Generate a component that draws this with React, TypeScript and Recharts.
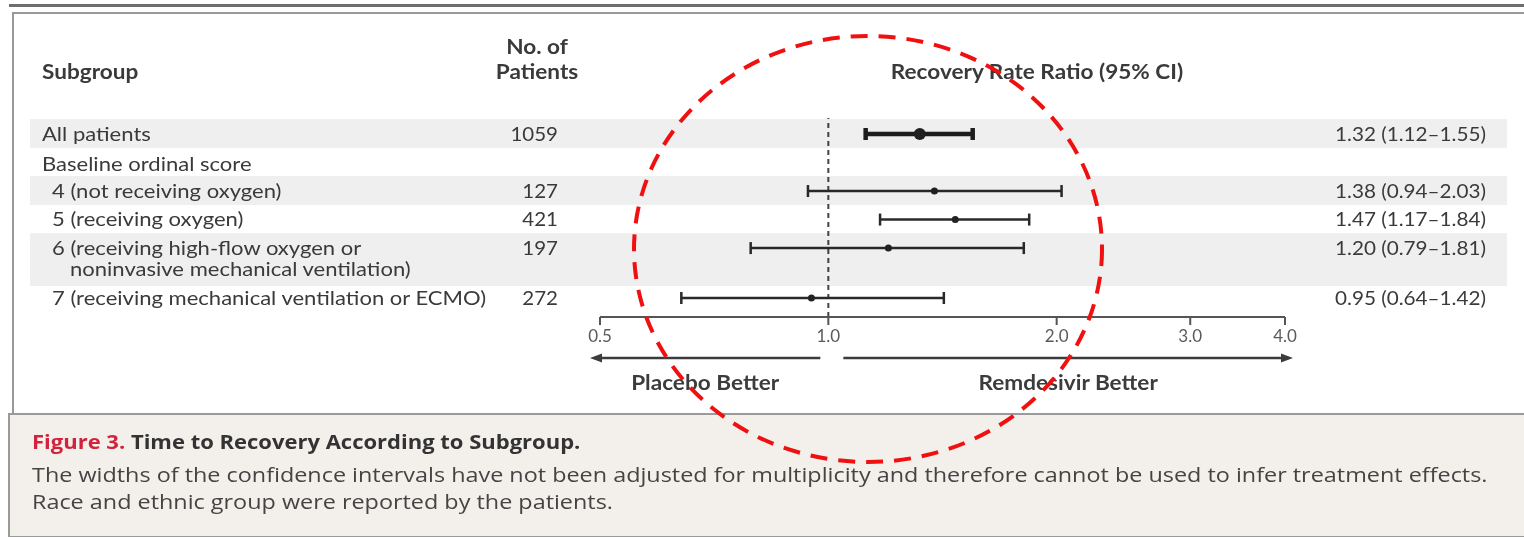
import React from 'react';
import { ScatterChart, Scatter, XAxis, YAxis, ErrorBar, ReferenceLine } from 'recharts';

// ---------- data ----------
const subgroupLabels: string[][] = [
  ['All patients'],
  ['Baseline ordinal score'],
  ['4 (not receiving oxygen)'],
  ['5 (receiving oxygen)'],
  ['6 (receiving high-flow oxygen or', 'noninvasive mechanical ventilation)'],
  ['7 (receiving mechanical ventilation or ECMO)'],
];
const subgroupLevel = [0, 0, 1, 1, 1, 1];
const patientCounts: (number | null)[] = [1059, null, 127, 421, 197, 272];
const estimates: (number | null)[] = [1.32, null, 1.38, 1.47, 1.2, 0.95];
const lowerCI: (number | null)[] = [1.12, null, 0.94, 1.17, 0.79, 0.64];
const upperCI: (number | null)[] = [1.55, null, 2.03, 1.84, 1.81, 1.42];
const xTicks = [0.5, 1, 2, 3, 4];
const xDomain: [number, number] = [0.5, 4];

// ---------- layout ----------
const W = 1524;
const H = 537;
const FONT = 'Lato, "Open Sans", sans-serif';
const CAPTION_FONT = '"Open Sans", Lato, sans-serif';
const TEXT = '#3a3a3a';
const SX = 1.13; // horizontal stretch of the figure's lettering
const ROW_SX = 1.16; // stretch of the row labels
const CSX = 1.17; // horizontal stretch of the caption lettering
const CSX_BOLD = 1.1;

// row positions (in line units) derived from the number of label lines
const rowPositions: number[] = [];
{
  let acc = 0;
  subgroupLabels.forEach((lines) => {
    rowPositions.push(acc);
    acc += 1 + (lines.length - 1) * 0.75;
  });
}
const lastPos = rowPositions[rowPositions.length - 1];

const fmt = (v: number) => v.toFixed(2);
const ciText = subgroupLabels.map((_, i) =>
  estimates[i] == null ? '' : `${fmt(estimates[i] as number)} (${fmt(lowerCI[i] as number)}\u2013${fmt(upperCI[i] as number)})`
);

const makePoint = (i: number) => ({
  x: estimates[i] as number,
  y: rowPositions[i],
  err: [(estimates[i] as number) - (lowerCI[i] as number), (upperCI[i] as number) - (estimates[i] as number)],
});
const overallData = [makePoint(0)];
const subgroupData = subgroupLabels
  .map((_, i) => i)
  .filter((i) => i > 0 && estimates[i] != null)
  .map(makePoint);

// stretched text helper
const SText = ({ x, y, sx = SX, anchor = 'start', children, ...rest }: any) => (
  <text transform={`translate(${x},${y}) scale(${sx},1)`} x={0} y={0} textAnchor={anchor} {...rest}>
    {children}
  </text>
);

const RowTick = (props: any) => {
  const { y, payload } = props;
  const i = rowPositions.findIndex((p) => Math.abs(p - payload.value) < 1e-6);
  if (i < 0) return null;
  const lines = subgroupLabels[i];
  const indent = subgroupLevel[i] ? 10 : 0;
  const banded = i % 2 === 0;
  const common = { fontFamily: FONT, fontSize: 19, fill: TEXT, dy: '0.35em' };
  return (
    <g>
      {banded && (
        <rect
          x={30}
          y={y - 15}
          width={1477}
          height={29 + (lines.length - 1) * 24}
          fill="#efefef"
          style={{ mixBlendMode: 'multiply' }}
        />
      )}
      {lines.map((l, k) => (
        <SText key={k} x={42 + indent + (k > 0 ? 18 : 0)} y={y + (i === 1 ? 2 : 0) + k * 21.5} sx={ROW_SX} {...common}>
          {l}
        </SText>
      ))}
      {patientCounts[i] != null && (
        <SText x={558} y={y} anchor="end" sx={1.08} {...common}>
          {patientCounts[i]}
        </SText>
      )}
      {ciText[i] && (
        <SText x={1335} y={y} sx={1.09} {...common}>
          {ciText[i]}
        </SText>
      )}
    </g>
  );
};

const DirectionLabel = (props: any) => {
  const vb = props.viewBox;
  if (!vb) return null;
  const { x, y, width } = vb;
  const mid = x + (width * Math.log(1 / xDomain[0])) / Math.log(xDomain[1] / xDomain[0]);
  const ay = y + 41;
  const leftEnd = x - 10;
  const rightEnd = x + width + 8;
  const col = '#3c3c3c';
  return (
    <g>
      <line x1={mid - 8} y1={ay} x2={leftEnd + 10} y2={ay} stroke={col} strokeWidth={2.5} />
      <polygon points={`${leftEnd},${ay} ${leftEnd + 12},${ay - 4.5} ${leftEnd + 12},${ay + 4.5}`} fill={col} />
      <line x1={mid + 15} y1={ay} x2={rightEnd - 10} y2={ay} stroke={col} strokeWidth={2.5} />
      <polygon points={`${rightEnd},${ay} ${rightEnd - 12},${ay - 4.5} ${rightEnd - 12},${ay + 4.5}`} fill={col} />
      <SText x={(leftEnd + mid - 8) / 2} y={ay + 32} anchor="middle" fontFamily={FONT} fontWeight={700} fontSize={20} fill={col}>
        Placebo Better
      </SText>
      <SText x={(rightEnd + mid + 15) / 2} y={ay + 32} anchor="middle" fontFamily={FONT} fontWeight={700} fontSize={20} fill={col}>
        Remdesivir Better
      </SText>
    </g>
  );
};

const dot = (r: number) => (p: any) => <circle cx={p.cx} cy={p.cy} r={r} fill="#222" />;

export default function App() {
  return (
    <div style={{ position: 'absolute', left: 0, top: 0, width: W, height: H, background: '#fff', overflow: 'hidden' }}>
      {/* frame */}
      <div style={{ position: 'absolute', left: 9, right: 0, top: 4, height: 3, background: '#6e6e6e' }} />
      <div style={{ position: 'absolute', left: 12, right: 0, top: 12, height: 2, background: '#999' }} />
      <div style={{ position: 'absolute', left: 12, top: 12, width: 2, height: 403, background: '#999' }} />
      <div
        style={{
          position: 'absolute',
          left: 8,
          right: 0,
          top: 413,
          height: 121,
          background: '#f3f0ec',
          borderTop: '2px solid #9a9a9a',
          borderBottom: '2px solid #9a9a9a',
          borderLeft: '2px solid #9a9a9a',
        }}
      />
      <div style={{ position: 'absolute', left: 0, top: 0 }}>
        <ScatterChart width={W} height={H} margin={{ top: 118, right: 239, left: 599, bottom: 180 }}>
          <XAxis
            type="number"
            dataKey="x"
            scale="log"
            domain={xDomain}
            ticks={xTicks}
            allowDataOverflow
            height={40}
            tickFormatter={(v: number) => v.toFixed(1)}
            tickSize={8}
            tickMargin={5}
            axisLine={{ stroke: '#555', strokeWidth: 2 }}
            tickLine={{ stroke: '#555', strokeWidth: 2 }}
            tick={{ fill: '#5a5a5a', fontSize: 17, fontFamily: FONT }}
            label={{ content: DirectionLabel }}
          />
          <YAxis
            type="number"
            dataKey="y"
            domain={[0, lastPos]}
            reversed
            ticks={rowPositions}
            interval={0}
            width={1}
            padding={{ top: 16, bottom: 19 }}
            axisLine={false}
            tickLine={false}
            tick={RowTick}
          />
          <ReferenceLine x={1} stroke="#444" strokeWidth={2} strokeDasharray="5 4" />
          <Scatter data={subgroupData} isAnimationActive={false} shape={dot(3.5)}>
            <ErrorBar dataKey="err" direction="x" width={6} stroke="#2a2a2a" strokeWidth={2.5} isAnimationActive={false} />
          </Scatter>
          <Scatter data={overallData} isAnimationActive={false} shape={dot(6)}>
            <ErrorBar dataKey="err" direction="x" width={6} stroke="#1e1e1e" strokeWidth={4.5} isAnimationActive={false} />
          </Scatter>
        </ScatterChart>
      </div>
      {/* headers, caption and annotation */}
      <svg width={W} height={H} style={{ position: 'absolute', left: 0, top: 0, pointerEvents: 'none' }}>
        <g fontFamily={FONT} fontWeight={700} fontSize={20} fill={TEXT}>
          <SText x={42} y={79}>Subgroup</SText>
          <SText x={537} y={54} anchor="middle">No. of</SText>
          <SText x={537} y={79} anchor="middle">Patients</SText>
          <SText x={1037} y={79} anchor="middle">Recovery Rate Ratio (95% CI)</SText>
        </g>
        <g fontFamily={CAPTION_FONT} fontSize={20}>
          <SText x={32} y={449} sx={CSX_BOLD} fontWeight={700}>
            <tspan fill="#d0243c">Figure 3. </tspan>
            <tspan fill="#333">Time to Recovery According to Subgroup.</tspan>
          </SText>
          <SText x={32} y={482} sx={CSX} fill="#444">
            The widths of the confidence intervals have not been adjusted for multiplicity and therefore cannot be used to infer treatment effects.
          </SText>
          <SText x={32} y={509} sx={CSX} fill="#444">
            Race and ethnic group were reported by the patients.
          </SText>
        </g>
        <ellipse cx={868} cy={249} rx={234} ry={213} fill="none" stroke="#f01010" strokeWidth={4} strokeDasharray="17 11" />
      </svg>
    </div>
  );
}
